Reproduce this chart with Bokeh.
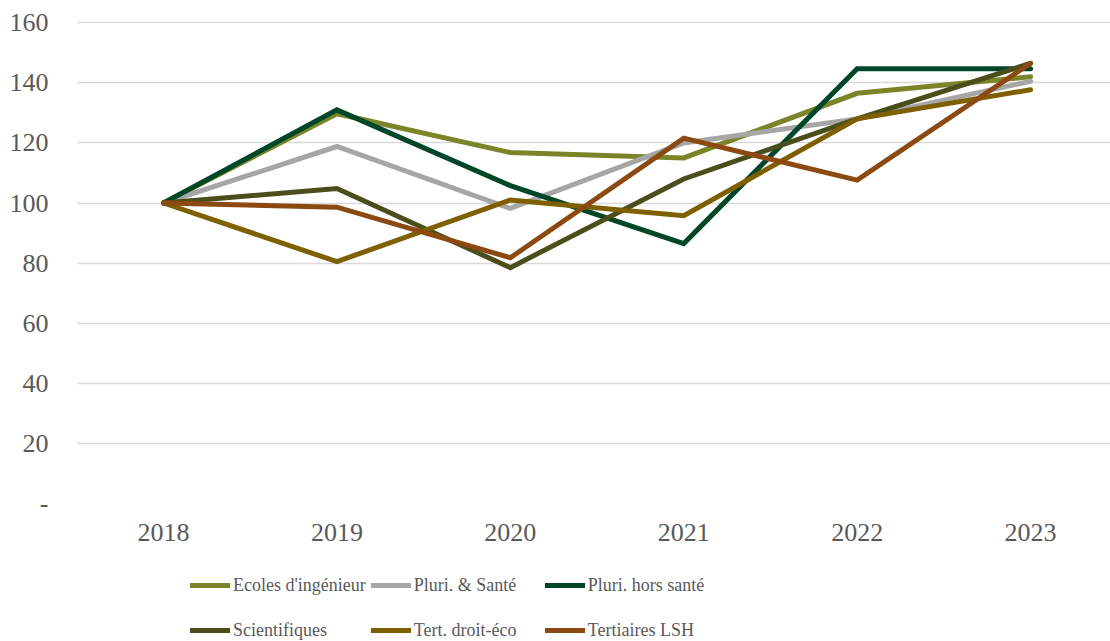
from bokeh.plotting import figure
from bokeh.models import Range1d, FixedTicker, Legend, LegendItem
from bokeh.layouts import column
from bokeh.embed import file_html
from bokeh.resources import INLINE

years = ["2018", "2019", "2020", "2021", "2022", "2023"]
series_names = ["Ecoles d'ingénieur", "Pluri. & Santé", "Pluri. hors santé",
                "Scientifiques", "Tert. droit-éco", "Tertiaires LSH"]
ecoles = [100, 129.7, 116.8, 115.0, 136.5, 142.0]
pluri_sante = [100, 118.8, 98.2, 120.0, 128.0, 140.5]
pluri_hors = [100, 131.0, 105.8, 86.5, 144.7, 144.7]
scientifiques = [100, 104.8, 78.5, 108.0, 128.0, 146.5]
tert_droit = [100, 80.5, 101.0, 95.8, 128.0, 137.7]
tert_lsh = [100, 98.6, 81.8, 121.6, 107.6, 146.5]
colors = ["#7A8429", "#A6A6A6", "#00472A", "#4A4E1B", "#7F6000", "#8C4A12"]
y_ticks = [0, 20, 40, 60, 80, 100, 120, 140, 160]

values = [ecoles, pluri_sante, pluri_hors, scientifiques, tert_droit, tert_lsh]
xs = list(range(len(years)))

FONT = "Liberation Serif"
TXT = "#595959"

# main chart
p = figure(width=1110, height=560, output_backend="svg", toolbar_location=None,
           x_range=Range1d(-0.496, 5.461), y_range=Range1d(0, 160.4),
           min_border_left=77, min_border_right=0, min_border_top=21,
           min_border_bottom=57)
p.outline_line_color = None
p.background_fill_color = "white"

for name, vals, col in zip(series_names, values, colors):
    p.line(xs, vals, line_color=col, line_width=5, line_cap="round",
           line_join="miter")

p.xgrid.grid_line_color = None
p.ygrid.grid_line_color = "#D9D9D9"
p.ygrid.grid_line_width = 1.5
p.yaxis.ticker = FixedTicker(ticks=y_ticks)
p.yaxis.major_label_overrides = {0: "-"}
p.xaxis.ticker = FixedTicker(ticks=xs)
p.xaxis.major_label_overrides = {i: y for i, y in enumerate(years)}

for ax in (p.xaxis, p.yaxis):
    ax.axis_line_color = None
    ax.major_tick_line_color = None
    ax.minor_tick_line_color = None
    ax.major_label_text_font = FONT
    ax.major_label_text_font_size = "26px"
    ax.major_label_text_color = TXT
p.yaxis.major_label_standoff = 23
p.xaxis.major_label_standoff = 14

# legend strip (lines lie outside its visible range; only the legend shows)
q = figure(width=1110, height=81, output_backend="svg", toolbar_location=None,
           x_range=Range1d(0, 1), y_range=Range1d(0, 1),
           x_axis_type=None, y_axis_type=None, min_border=0)
q.outline_line_color = None
q.xgrid.grid_line_color = None
q.ygrid.grid_line_color = None
legend_renderers = []
for name, vals, col in zip(series_names, values, colors):
    r = q.line(xs, vals, line_color=col, line_width=5, line_cap="round")
    legend_renderers.append(r)

items = [LegendItem(label=n, renderers=[r]) for n, r in zip(series_names, legend_renderers)]
lg = Legend(items=items, location=(113, -9), orientation="horizontal", ncols=3,
            glyph_width=40, glyph_height=40, label_height=40, label_width=126,
            label_standoff=3, spacing=5, padding=0, margin=0,
            border_line_color=None, background_fill_alpha=0,
            label_text_font=FONT, label_text_font_size="18px",
            label_text_color=TXT)
q.add_layout(lg, "center")

layout = column(p, q, spacing=0)
open("out.html", "w").write(file_html(layout, INLINE))
